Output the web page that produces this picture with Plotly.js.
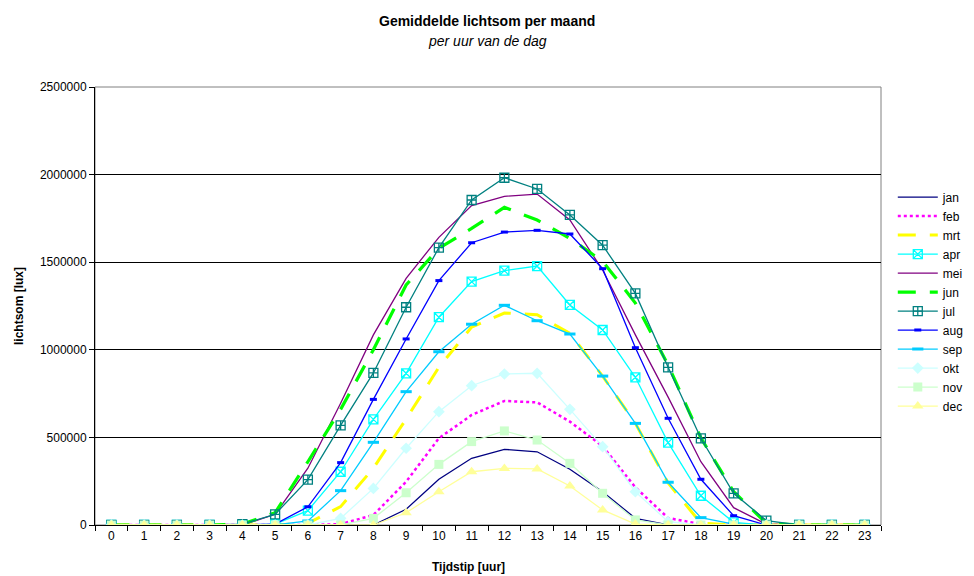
<!DOCTYPE html>
<html>
<head>
<meta charset="utf-8">
<script src="https://cdn.plot.ly/plotly-3.0.1.min.js"></script>
<style>html,body{margin:0;padding:0;background:#fff;}#chart{width:974px;height:576px;}</style>
</head>
<body>
<div id="chart"></div>
<script>
const hours = ["0","1","2","3","4","5","6","7","8","9","10","11","12","13","14","15","16","17","18","19","20","21","22","23"];
const monthNames = ["jan","feb","mrt","apr","mei","jun","jul","aug","sep","okt","nov","dec"];
const jan = [0,0,0,0,0,0,0,0,0,90000,261000,381000,432000,418000,318000,190000,38000,0,0,0,0,0,0,0];
const feb = [0,0,0,0,0,0,0,5000,57000,247000,495000,628000,708000,700000,590000,450000,215000,40000,5000,0,0,0,0,0];
const mrt = [0,0,0,0,0,0,10000,105000,324000,605000,900000,1130000,1210000,1200000,1094000,850000,580000,240000,10000,0,0,0,0,0];
const apr = [0,0,0,0,0,5000,82000,304000,603000,866000,1186000,1389000,1452000,1478000,1256000,1113000,843000,470000,167000,15000,0,0,0,0];
const mei = [0,0,0,0,0,61000,324000,695000,1085000,1408000,1642000,1823000,1876000,1889000,1741000,1455000,1085000,730000,361000,99000,5000,0,0,0];
const jun = [0,0,0,0,5000,70000,361000,660000,1000000,1370000,1579000,1693000,1813000,1741000,1636000,1505000,1267000,913000,497000,190000,10000,0,0,0];
const jul = [0,0,0,0,5000,61000,259000,569000,868000,1243000,1583000,1855000,1982000,1918000,1770000,1597000,1322000,900000,495000,181000,25000,0,0,0];
const aug = [0,0,0,0,0,5000,104000,356000,717000,1062000,1395000,1611000,1672000,1682000,1661000,1463000,1012000,609000,261000,53000,0,0,0,0];
const sep = [0,0,0,0,0,0,23000,196000,472000,761000,989000,1146000,1254000,1166000,1090000,850000,580000,244000,42000,5000,0,0,0,0];
const okt = [0,0,0,0,0,0,0,38000,209000,438000,647000,795000,862000,866000,660000,447000,190000,19000,0,0,0,0,0,0];
const nov = [0,0,0,0,0,0,0,0,38000,184000,346000,476000,537000,485000,352000,181000,29000,0,0,0,0,0,0,0];
const dec = [0,0,0,0,0,0,0,0,0,70000,190000,304000,323000,320000,223000,86000,5000,0,0,0,0,0,0,0];

const titleText = "Gemiddelde lichtsom per maand";
const subtitleText = "per uur van de dag";
const xTitleText = "Tijdstip [uur]";
const yTitleText = "lichtsom [lux]";

const seriesValues = [jan,feb,mrt,apr,mei,jun,jul,aug,sep,okt,nov,dec];
const styles = [
  {line:{color:"#000080",width:1.3}, mode:"lines"},
  {line:{color:"#FF00FF",width:2.5,dash:"dot"}, mode:"lines"},
  {line:{color:"#FFFF00",width:3,dash:"18px,14px"}, mode:"lines"},
  {line:{color:"#00FFFF",width:1.3}, mode:"lines+markers", marker:{symbol:"square-x-open",size:9,color:"#00FFFF",line:{width:1.3,color:"#00FFFF"}}},
  {line:{color:"#800080",width:1.3}, mode:"lines"},
  {line:{color:"#00FF00",width:3.2,dash:"18px,14px"}, mode:"lines"},
  {line:{color:"#008080",width:1.3}, mode:"lines+markers", marker:{symbol:"square-cross-open",size:9,color:"#008080",line:{width:1.3,color:"#008080"}}},
  {line:{color:"#0000FF",width:1.3}, mode:"lines+markers", marker:{symbol:"line-ew-open",size:5,color:"#0000FF",line:{width:3,color:"#0000FF"}}},
  {line:{color:"#00CCFF",width:1.3}, mode:"lines+markers", marker:{symbol:"line-ew-open",size:8,color:"#00CCFF",line:{width:3,color:"#00CCFF"}}},
  {line:{color:"#CCFFFF",width:1.3}, mode:"lines+markers", marker:{symbol:"diamond",size:9,color:"#CCFFFF"}},
  {line:{color:"#CCFFCC",width:1.3}, mode:"lines+markers", marker:{symbol:"square",size:9,color:"#CCFFCC"}},
  {line:{color:"#FFFF99",width:1.3}, mode:"lines+markers", marker:{symbol:"triangle-up",size:10,color:"#FFFF99"}}
];

const traces = seriesValues.map((vals,i)=>Object.assign({
  type:"scatter", x:hours, y:vals, name:monthNames[i]
}, styles[i]));

const font = "Liberation Sans, Arial, sans-serif";
const L = 95, R = 881, T = 87, B = 525, W = 974, H = 576;
const px = v => (v - L) / (R - L);
const py = v => (B - v) / (B - T);
const layout = {
  width:W, height:H,
  margin:{l:L, r:W-R, t:T, b:H-B, autoexpand:false},
  paper_bgcolor:"#fff", plot_bgcolor:"#fff",
  font:{family:font, size:12, color:"#000"},
  annotations:[
    {text:"<b>"+titleText+"</b>", xref:"paper", yref:"paper", x:px(487), y:py(21), xanchor:"center", yanchor:"middle", showarrow:false, font:{family:font,size:14,color:"#000"}},
    {text:"<i>"+subtitleText+"</i>", xref:"paper", yref:"paper", x:px(487), y:py(41), xanchor:"center", yanchor:"middle", showarrow:false, font:{family:font,size:14,color:"#000"}},
    {text:"<b>"+xTitleText+"</b>", xref:"paper", yref:"paper", x:px(468), y:py(567), xanchor:"center", yanchor:"middle", showarrow:false, font:{family:font,size:12,color:"#000"}},
    {text:"<b>"+yTitleText+"</b>", xref:"paper", yref:"paper", x:px(19), y:py(306), xanchor:"center", yanchor:"middle", textangle:-90, showarrow:false, font:{family:font,size:12,color:"#000"}}
  ],
  xaxis:{type:"category", categoryorder:"array", categoryarray:hours, range:[-0.5,23.5],
         tickson:"boundaries", ticks:"outside", ticklen:5, tickcolor:"#000", showgrid:false,
         showline:true, linecolor:"#000", linewidth:1, zeroline:false,
         tickfont:{family:font,size:12}},
  yaxis:{range:[0,2500000], dtick:500000, tickformat:"d", ticks:"outside", ticklen:5, tickcolor:"#000",
         showgrid:true, gridcolor:"#000", gridwidth:1, zeroline:false,
         showline:true, linecolor:"#000", linewidth:1,
         tickfont:{family:font,size:12}},
  legend:{x:1.015, xanchor:"left", y:0.51, yanchor:"middle", font:{family:font,size:12},
          bgcolor:"rgba(0,0,0,0)", itemwidth:40, tracegroupgap:0},
  shapes:[{type:"rect", xref:"paper", yref:"paper", x0:0, x1:1, y0:0, y1:1, line:{color:"#808080", width:1}, layer:"below"}],
  showlegend:true
};
Plotly.newPlot("chart", traces, layout, {staticPlot:true, displayModeBar:false});
</script>
</body>
</html>
